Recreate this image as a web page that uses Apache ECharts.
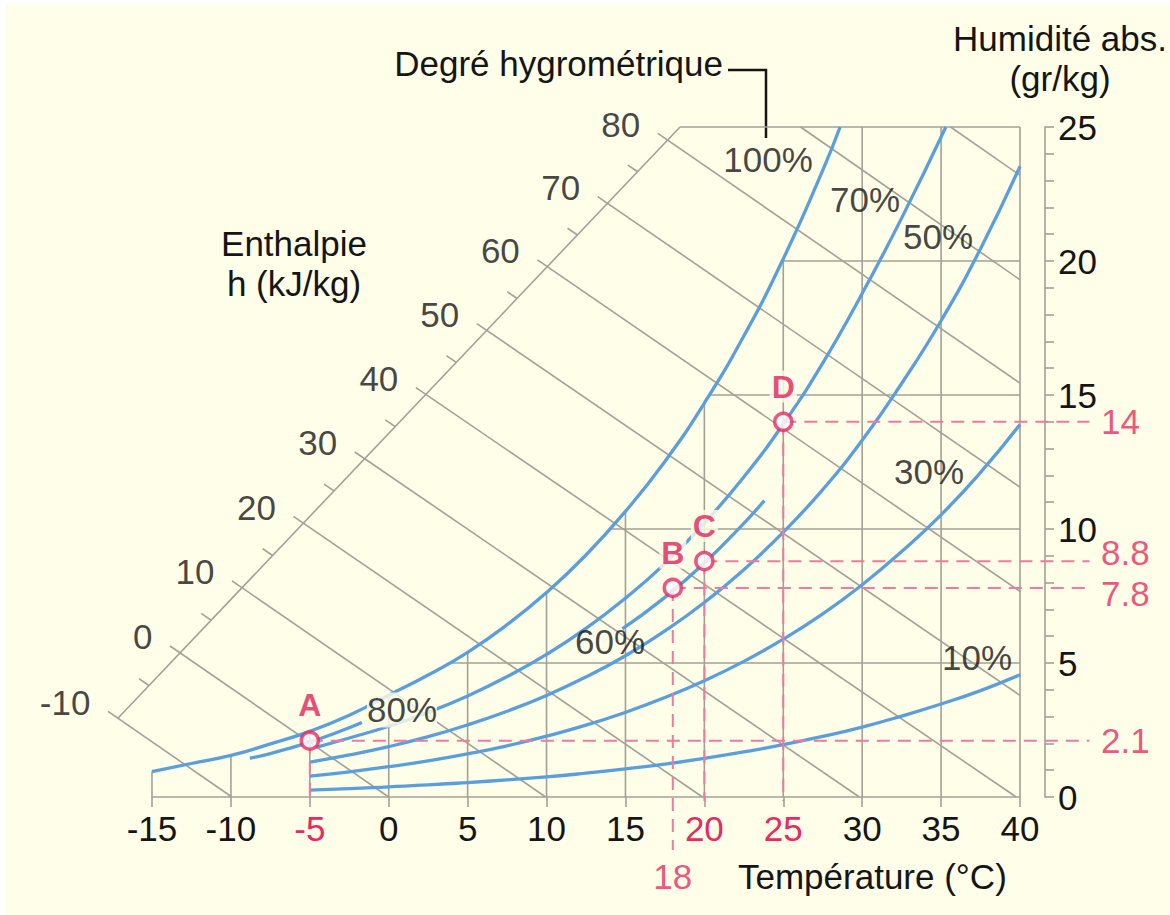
<!DOCTYPE html>
<html><head><meta charset="utf-8">
<script src="https://cdn.jsdelivr.net/npm/echarts@6/dist/echarts.min.js"></script>
<style>
html,body{margin:0;padding:0;background:#ffffff;}
#bg{position:absolute;left:6px;top:5px;width:1164px;height:910px;background:#fffee8;}
#chart{position:absolute;left:0;top:0;width:1170px;height:915px;}
</style></head><body>
<div id="bg"></div><div id="chart"></div>
<script>
// ---------------- DATA ----------------
// tick labels
const xTickLabels = [-15,-10,-5,0,5,10,15,20,25,30,35,40];
const yTickLabels = [0,5,10,15,20,25];
const tempGrid = [-15,-10,-5,0,5,10,15,20,25,30,35,40];
const humGrid = [5,10,15,20,25];

// relative humidity curves (temperature °C -> absolute humidity g/kg)
const temps100 = [-15,-12.5,-10,-7.5,-5,-2.5,0,2.5,5,7.5,10,12.5,15,17.5,20,22.5,25,27.5,28.6];
const hum100   = [0.95,1.25,1.55,1.98,2.45,3.05,3.8,4.55,5.4,6.43,7.63,9.03,10.66,12.52,14.7,17.2,20.08,23.38,25];
const temps80  = [-8.8,-7.5,-5,-3,-1.7];
const hum80    = [1.45,1.62,2.05,2.47,2.78];
const temps70  = [-4.6,-2.5,0,2.5,5,7.5,10,12.5,15,17.5,20,22.5,25,27.5,30,32.5,35.3];
const hum70    = [1.85,2.2,2.64,3.16,3.77,4.49,5.32,6.29,7.42,8.71,10.22,11.94,13.92,16.19,18.79,21.6,25];
const temps60  = [14.8,17.5,20,22.5,23.8];
const hum60    = [6.27,7.45,8.73,10.21,11.06];
const tempsLow = [-5,-2.5,0,2.5,5,7.5,10,12.5,15,17.5,20,22.5,25,27.5,30,32.5,35,37.5,40];
const hum50    = [1.3,1.57,1.88,2.25,2.69,3.2,3.79,4.48,5.27,6.2,7.26,8.48,9.88,11.47,13.31,15.43,17.77,20.46,23.53];
const hum30    = [0.78,0.94,1.13,1.35,1.61,1.91,2.27,2.68,3.16,3.71,4.34,5.06,5.89,6.83,7.92,9.16,10.53,12.11,13.9];
const hum10    = [0.26,0.31,0.38,0.45,0.54,0.64,0.75,0.89,1.05,1.23,1.44,1.68,1.95,2.26,2.61,3.02,3.47,3.97,4.56];

// enthalpy (kJ/kg) lines: start on oblique axis, end on bottom / right edge
const enthalpyAxis   = [[-17.16,2.94],[18.46,25]];
const enthalpyValues = [-10,0,10,20,30,40,50,60,70,80];
const enthalpyStart  = [[-17.16,2.94],[-13.23,5.38],[-9.30,7.81],[-5.41,10.22],[-1.52,12.62],[2.35,15.02],[6.21,17.41],[10.05,19.79],[13.87,22.15],[17.68,24.51]];
const enthalpyEnd    = [[-9.94,0],[0,0],[9.94,0],[19.88,0],[29.82,0],[39.76,0],[40,3.79],[40,7.67],[40,11.56],[40,15.44]];
const enthalpyUpperValues = [90,100];
const enthalpyUpperStart  = [[26.1,25],[35.6,25]];
const enthalpyUpperEnd    = [[40,19.3],[40,23.2]];
const enthalpyMinorValues = [-5,5,15,25,35,45,55,65,75];
const enthalpyMinorPoints = [[-15.2,4.16],[-11.26,6.6],[-7.36,9.01],[-3.47,11.42],[0.41,13.82],[4.28,16.22],[8.14,18.6],[11.96,20.97],[15.78,23.33]];

// state points
const pointNames = ['A','B','C','D'];
const pointTemp  = [-5,18,20,25];
const pointHum   = [2.1,7.8,8.8,14];

// curve labels
const rhLabelText = ['100%','80%','70%','60%','50%','30%','10%'];
const rhLabelPos  = [[24.04,23.77],[0.84,3.25],[30.18,22.31],[14.02,5.82],[34.81,20.9],[34.24,12.16],[37.28,5.22]];

// ---------------- STYLE ----------------
const FONT = "'Liberation Sans', Arial, Helvetica, sans-serif";
const FS = 35;
const GRAY = '#a3a197', BLUE = '#5a9fdc', RED = '#e62a63', PINK = '#f07a9f', DARK = '#151515', BG = '#fffee8';
const dashRightT = 44.4;                 // where horizontal guide lines stop (right of axis)
const dashDrop = [-0.2,-1.98,-0.15,-0.15]; // where vertical guide lines stop
const redLabelShift = [0,6,-9,0];        // vertical nudges of the red right-hand values

const pts = (ts,hs)=>ts.map((t,i)=>[t,hs[i]]);

function satTemp(w){
  for(let i=1;i<temps100.length;i++){
    if(hum100[i]>=w){const f=(w-hum100[i-1])/(hum100[i]-hum100[i-1]);return temps100[i-1]+f*(temps100[i]-temps100[i-1]);}
  }
  return temps100[temps100.length-1];
}
const gridSegs = [];
tempGrid.forEach(t=>{const i=temps100.indexOf(t);gridSegs.push([t,0,t,i>=0?Math.min(25,hum100[i]):25]);});
humGrid.forEach(w=>{const t0 = w>=25 ? enthalpyAxis[1][0] : satTemp(w); gridSegs.push([t0,w,40,w]);});
gridSegs.push([enthalpyAxis[0][0],enthalpyAxis[0][1],enthalpyAxis[1][0],enthalpyAxis[1][1]]);

const hSegs = enthalpyValues.map((h,i)=>[enthalpyStart[i][0],enthalpyStart[i][1],enthalpyEnd[i][0],enthalpyEnd[i][1]]);
const hUpperSegs = enthalpyUpperValues.map((h,i)=>[enthalpyUpperStart[i][0],enthalpyUpperStart[i][1],enthalpyUpperEnd[i][0],enthalpyUpperEnd[i][1]]);
const hMinor = enthalpyMinorValues.map((h,i)=>[enthalpyMinorPoints[i][0],enthalpyMinorPoints[i][1],h]);

const dashSegs = [];
pointNames.forEach((n,i)=>{
  dashSegs.push([pointTemp[i],pointHum[i],pointTemp[i],dashDrop[i]]);
  dashSegs.push([pointTemp[i],pointHum[i],dashRightT,pointHum[i]]);
});

function segSeries(data, style, z, ext){
  return {type:'custom', coordinateSystem:'cartesian2d', data, clip:false, z, silent:true,
    renderItem:function(params, api){
      const a=api.coord([api.value(0),api.value(1)]), b=api.coord([api.value(2),api.value(3)]);
      let sx=a[0], sy=a[1];
      if(ext){const dx=b[0]-a[0],dy=b[1]-a[1],L=Math.hypot(dx,dy)||1;sx-=dx/L*ext;sy-=dy/L*ext;}
      return {type:'line', shape:{x1:sx,y1:sy,x2:b[0],y2:b[1]}, style:Object.assign({fill:null},style)};
    }};
}
const minorTickSeries = {type:'custom', coordinateSystem:'cartesian2d', data:hMinor, clip:false, z:1, silent:true,
  renderItem:function(params, api){
    const a=api.coord([api.value(0),api.value(1)]), r=api.coord([api.value(2)/1.006,0]);
    const dx=r[0]-a[0],dy=r[1]-a[1],L=Math.hypot(dx,dy)||1;
    return {type:'line', shape:{x1:a[0],y1:a[1],x2:a[0]-dx/L*12,y2:a[1]-dy/L*12}, style:{stroke:GRAY,lineWidth:1.6}};
  }};

function curve(data){return {type:'line', data, smooth:true, symbol:'none', z:3, silent:true, lineStyle:{color:BLUE,width:3.3}};}

function textSeries(data, label, z){
  return {type:'scatter', data, symbolSize:1, itemStyle:{color:'rgba(0,0,0,0)'}, clip:false, z, silent:true,
    label:Object.assign({show:true, fontFamily:FONT, fontSize:FS, color:DARK, lineHeight:FS}, label)};
}

const rhLabelData = rhLabelText.map((t,i)=>({value:rhLabelPos[i], label: t==='80%' ? {formatter:t, backgroundColor:BG} : {formatter:t}}));
const hLabelData = enthalpyValues.map((h,i)=>({value:enthalpyStart[i], label:{formatter:String(h)}}));
const redRight = pointNames.map((n,i)=>({value:[dashRightT,pointHum[i]], label:{formatter:String(pointHum[i]), offset:[0,redLabelShift[i]]}}));
const red18 = [{value:[pointTemp[1],dashDrop[1]], label:{formatter:String(pointTemp[1])}}];
const pointData = pointNames.map((n,i)=>({name:n, value:[pointTemp[i],pointHum[i]]}));

const redX = [-5,20,25];

const option = {
  animation:false,
  backgroundColor:'transparent',
  grid:{left:152, right:150, top:127, bottom:118},
  xAxis:{type:'value', min:-15, max:40, interval:5,
    axisLine:{show:true, onZero:false, lineStyle:{color:GRAY,width:1.6}},
    axisTick:{show:true, length:10, lineStyle:{color:GRAY,width:1.6}},
    axisLabel:{customValues:xTickLabels, fontFamily:FONT, fontSize:FS, lineHeight:FS, margin:14,
      color:function(v){return redX.indexOf(Number(v))>=0?RED:DARK;}},
    splitLine:{show:false}},
  yAxis:{type:'value', position:'right', offset:25, min:0, max:25, interval:5,
    axisLine:{show:true, onZero:false, lineStyle:{color:GRAY,width:1.6}},
    axisTick:{show:true, length:9, lineStyle:{color:GRAY,width:1.6}},
    minorTick:{show:true, splitNumber:5, length:9, lineStyle:{color:GRAY,width:1.6}},
    axisLabel:{customValues:yTickLabels, fontFamily:FONT, fontSize:FS, lineHeight:FS, margin:13, color:DARK, padding:[0,0,7,0]},
    splitLine:{show:false}},
  graphic:[
    {type:'text', x:723, y:63, style:{text:'Degré hygrométrique', fontFamily:FONT, fontSize:FS, fill:DARK, align:'right', verticalAlign:'middle'}},
    {type:'polyline', shape:{points:[[728,70],[766,70],[766,138]]}, style:{stroke:DARK, lineWidth:2.5, fill:'none'}},
    {type:'text', x:294, y:263, style:{text:'Enthalpie\nh (kJ/kg)', fontFamily:FONT, fontSize:FS, lineHeight:40, fill:DARK, align:'center', verticalAlign:'middle'}},
    {type:'text', x:1060, y:58, style:{text:'Humidité abs.\n(gr/kg)', fontFamily:FONT, fontSize:FS, lineHeight:40, fill:DARK, align:'center', verticalAlign:'middle'}},
    {type:'text', x:738, y:876, style:{text:'Température (°C)', fontFamily:FONT, fontSize:FS, fill:DARK, align:'left', verticalAlign:'middle'}}
  ],
  series:[
    segSeries(gridSegs, {stroke:GRAY, lineWidth:1.6}, 1, 0),
    segSeries(hSegs, {stroke:GRAY, lineWidth:1.6}, 1, 12),
    segSeries(hUpperSegs, {stroke:GRAY, lineWidth:1.6}, 1, 0),
    minorTickSeries,
    curve(pts(temps100,hum100)),
    curve(pts(temps80,hum80)),
    curve(pts(temps70,hum70)),
    curve(pts(temps60,hum60)),
    curve(pts(tempsLow,hum50)),
    curve(pts(tempsLow,hum30)),
    curve(pts(tempsLow,hum10)),
    segSeries(dashSegs, {stroke:PINK, lineWidth:2, lineDash:[13,8]}, 4, 0),
    textSeries(rhLabelData, {position:'inside'}, 6),
    textSeries(hLabelData, {position:'left', distance:27, offset:[0,-16]}, 6),
    textSeries(redRight, {position:'right', distance:11, color:RED}, 6),
    textSeries(red18, {position:'bottom', distance:8, color:RED}, 6),
    {type:'scatter', data:pointData, symbol:'circle', symbolSize:17, z:8, silent:true, clip:false,
      itemStyle:{color:'#ffffff', borderColor:RED, borderWidth:3.5},
      label:{show:true, formatter:'{b}', position:'top', distance:9, color:'#e01f5a', fontWeight:'bold',
        fontFamily:FONT, fontSize:32, lineHeight:32, backgroundColor:BG, padding:[0,2,0,2]}}
  ]
};
const chart = echarts.init(document.getElementById('chart'), null, {renderer:'svg'});
chart.setOption(option);
</script></body></html>
